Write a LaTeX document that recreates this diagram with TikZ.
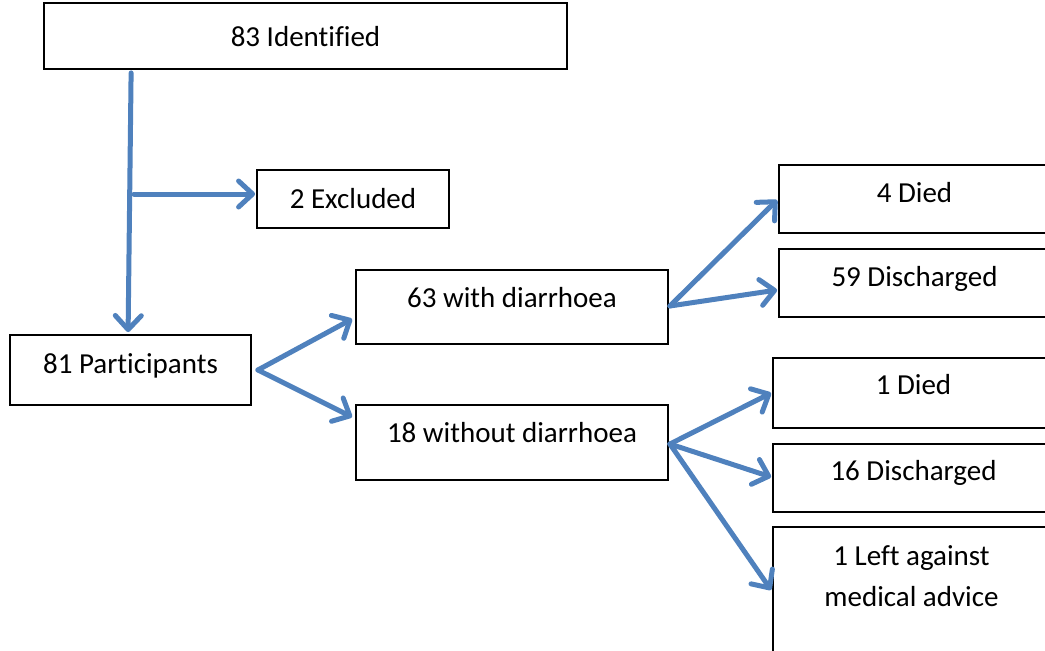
\documentclass[tikz,border=0pt]{standalone}
\usepackage{fontspec}
\setmainfont{Carlito}[Ligatures=NoCommon]
\usetikzlibrary{arrows.meta,calc}
\definecolor{arrowblue}{HTML}{4F81BD}
\newcommand{\lifttext}[2]{\raisebox{#1pt}[0pt][0pt]{#2}}
\begin{document}
\begin{tikzpicture}[x=1pt,y=-1pt,
  box/.style={draw=black, line width=1.8pt, rectangle, inner sep=0pt, fill=white,
    font=\fontsize{29}{34}\selectfont},
  arr/.style={draw=arrowblue, line width=5pt, line cap=round,
    -{Straight Barb[length=14pt,width=26pt,round]}}]
\useasboundingbox (0,0) rectangle (1045,651);
\clip (0,0) rectangle (1045,651);
\node[box, minimum width=523pt, minimum height=66pt] (id) at (305.5,36) {\lifttext{-10}{83 Identif\kern0pt ied}};
\node[box, minimum width=192pt, minimum height=58pt] (ex) at (353,199) {\lifttext{-9}{2 Excluded}};
\node[box, minimum width=241pt, minimum height=70pt] (pa) at (130.5,370) {\lifttext{-3}{81 Participants}};
\node[box, minimum width=312pt, minimum height=74pt] (w) at (512,307) {\lifttext{0}{63 with diarrhoea}};
\node[box, minimum width=312pt, minimum height=75pt] (wo) at (512,442.5) {\lifttext{0.5}{18 without diarrhoea}};
\node[box, minimum width=271pt, minimum height=68pt] (d4) at (914.5,199) {\lifttext{-3}{4 Died}};
\node[box, minimum width=271pt, minimum height=68pt] (d59) at (914.5,283) {\lifttext{-3}{59 Discharged}};
\node[box, minimum width=281pt, minimum height=70pt] (d1) at (913.5,393) {\lifttext{-1}{1 Died}};
\node[box, minimum width=281pt, minimum height=68pt] (d16) at (913.5,478) {\lifttext{-2}{16 Discharged}};
\node[box, minimum width=277pt, minimum height=173pt] (lama) at (911.5,613.5)
  {\lifttext{48.5}{\begin{tabular}[t]{@{}c@{}}1 Left against\\[7pt] medical advice\end{tabular}}};
% connectors
\draw[arr] ($(id.south west)+(88,3)$) -- ($(pa.north west)+(119,-2)$);
\coordinate (br) at (134,194);
\draw[arr] (br) -- ($(ex.west |- br)+(-1,0)$);
\draw[arr] ($(pa.east)+(6,0)$) -- ($(w.west)+(-3,12)$);
\draw[arr] ($(pa.east)+(6,0)$) -- ($(wo.west)+(-3,-25.5)$);
\draw[arr] ($(w.east)+(1,-1)$) -- ($(d4.west)+(-1,1)$);
\draw[arr] ($(w.east)+(1,-1)$) -- ($(d59.west)+(-1,7)$);
\draw[arr] ($(wo.east)+(1,1.5)$) -- ($(d1.west)+(-1,0)$);
\draw[arr] ($(wo.east)+(1,1.5)$) -- ($(d16.west)+(-1,-1)$);
\draw[arr] ($(wo.east)+(1,1.5)$) -- ($(lama.west)+(-1,-23.5)$);
\end{tikzpicture}
\end{document}
